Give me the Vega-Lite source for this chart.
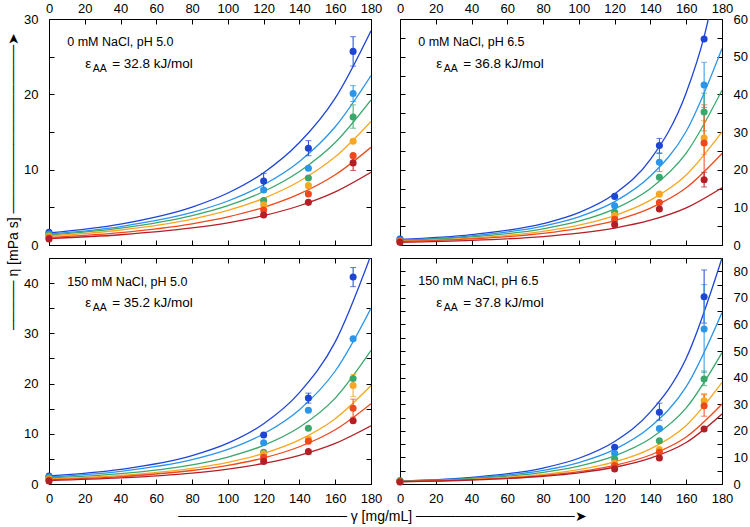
{
"$schema":"https://vega.github.io/schema/vega-lite/v6.json",
"padding":{"left":5,"top":1,"right":0,"bottom":0},
"background":"white",
"config":{"font":"Liberation Sans","view":{"stroke":"#000","strokeWidth":1},
"axis":{"labelFlush":false,"labelOverlap":false,"grid":false,"domain":false,"tickColor":"#000","labelColor":"#000","labelFontSize":13,"labelFont":"Liberation Sans","titleFont":"Liberation Sans","titleFontSize":14,"titleFontWeight":"normal","titleColor":"#000","tickSize":-5},
"axisTop":{"labelPadding":9},"axisBottom":{"labelPadding":13},"axisLeft":{"labelPadding":16},"axisRight":{"labelPadding":16},
"text":{"font":"Liberation Sans","fontSize":13.5,"color":"#000"}},
"datasets":{
"curves":[
{"p":"TL","s":1,"x":0,"y":1.6},{"p":"TL","s":1,"x":40,"y":2.77},{"p":"TL","s":1,"x":80,"y":5.03},{"p":"TL","s":1,"x":100,"y":6.9},{"p":"TL","s":1,"x":120,"y":9.6},{"p":"TL","s":1,"x":140,"y":13.6},{"p":"TL","s":1,"x":160,"y":19.5},{"p":"TL","s":1,"x":180,"y":28.45},
{"p":"TL","s":2,"x":0,"y":1.45},{"p":"TL","s":2,"x":40,"y":2.45},{"p":"TL","s":2,"x":80,"y":4.32},{"p":"TL","s":2,"x":100,"y":5.84},{"p":"TL","s":2,"x":120,"y":8.0},{"p":"TL","s":2,"x":140,"y":11.1},{"p":"TL","s":2,"x":160,"y":15.7},{"p":"TL","s":2,"x":180,"y":22.5},
{"p":"TL","s":3,"x":0,"y":1.35},{"p":"TL","s":3,"x":40,"y":2.25},{"p":"TL","s":3,"x":80,"y":3.91},{"p":"TL","s":3,"x":100,"y":5.23},{"p":"TL","s":3,"x":120,"y":7.1},{"p":"TL","s":3,"x":140,"y":9.76},{"p":"TL","s":3,"x":160,"y":13.6},{"p":"TL","s":3,"x":180,"y":19.25},
{"p":"TL","s":4,"x":0,"y":1.2},{"p":"TL","s":4,"x":40,"y":1.99},{"p":"TL","s":4,"x":80,"y":3.44},{"p":"TL","s":4,"x":100,"y":4.59},{"p":"TL","s":4,"x":120,"y":6.2},{"p":"TL","s":4,"x":140,"y":8.46},{"p":"TL","s":4,"x":160,"y":11.7},{"p":"TL","s":4,"x":180,"y":16.4},
{"p":"TL","s":5,"x":0,"y":1.0},{"p":"TL","s":5,"x":40,"y":1.65},{"p":"TL","s":5,"x":80,"y":2.81},{"p":"TL","s":5,"x":100,"y":3.73},{"p":"TL","s":5,"x":120,"y":5.0},{"p":"TL","s":5,"x":140,"y":6.78},{"p":"TL","s":5,"x":160,"y":9.32},{"p":"TL","s":5,"x":180,"y":12.97},
{"p":"TL","s":6,"x":0,"y":0.85},{"p":"TL","s":6,"x":40,"y":1.36},{"p":"TL","s":6,"x":80,"y":2.26},{"p":"TL","s":6,"x":100,"y":2.95},{"p":"TL","s":6,"x":120,"y":3.9},{"p":"TL","s":6,"x":140,"y":5.21},{"p":"TL","s":6,"x":160,"y":7.05},{"p":"TL","s":6,"x":180,"y":9.65},
{"p":"TR","s":1,"x":0,"y":1.5},{"p":"TR","s":1,"x":40,"y":2.75},{"p":"TR","s":1,"x":80,"y":5.66},{"p":"TR","s":1,"x":100,"y":8.58},{"p":"TR","s":1,"x":120,"y":13.6},{"p":"TR","s":1,"x":140,"y":22.7},{"p":"TR","s":1,"x":160,"y":40.4},{"p":"TR","s":1,"x":170,"y":55.3},{"p":"TR","s":1,"x":180,"y":77.3},
{"p":"TR","s":2,"x":0,"y":1.3},{"p":"TR","s":2,"x":40,"y":2.44},{"p":"TR","s":2,"x":80,"y":5.02},{"p":"TR","s":2,"x":100,"y":7.48},{"p":"TR","s":2,"x":120,"y":11.5},{"p":"TR","s":2,"x":140,"y":18.3},{"p":"TR","s":2,"x":160,"y":30.2},{"p":"TR","s":2,"x":180,"y":52.2},
{"p":"TR","s":3,"x":0,"y":1.15},{"p":"TR","s":3,"x":40,"y":2.13},{"p":"TR","s":3,"x":80,"y":4.3},{"p":"TR","s":3,"x":100,"y":6.33},{"p":"TR","s":3,"x":120,"y":9.6},{"p":"TR","s":3,"x":140,"y":15.0},{"p":"TR","s":3,"x":160,"y":24.4},{"p":"TR","s":3,"x":180,"y":41.1},
{"p":"TR","s":4,"x":0,"y":1.0},{"p":"TR","s":4,"x":40,"y":1.84},{"p":"TR","s":4,"x":80,"y":3.63},{"p":"TR","s":4,"x":100,"y":5.26},{"p":"TR","s":4,"x":120,"y":7.8},{"p":"TR","s":4,"x":140,"y":11.9},{"p":"TR","s":4,"x":160,"y":18.6},{"p":"TR","s":4,"x":180,"y":30.0},
{"p":"TR","s":5,"x":0,"y":0.9},{"p":"TR","s":5,"x":40,"y":1.61},{"p":"TR","s":5,"x":80,"y":3.1},{"p":"TR","s":5,"x":100,"y":4.43},{"p":"TR","s":5,"x":120,"y":6.5},{"p":"TR","s":5,"x":140,"y":9.79},{"p":"TR","s":5,"x":160,"y":15.2},{"p":"TR","s":5,"x":180,"y":24.3},
{"p":"TR","s":6,"x":0,"y":0.7},{"p":"TR","s":6,"x":40,"y":1.22},{"p":"TR","s":6,"x":80,"y":2.25},{"p":"TR","s":6,"x":100,"y":3.15},{"p":"TR","s":6,"x":120,"y":4.5},{"p":"TR","s":6,"x":140,"y":6.58},{"p":"TR","s":6,"x":160,"y":9.86},{"p":"TR","s":6,"x":180,"y":15.2},
{"p":"BL","s":1,"x":0,"y":1.6},{"p":"BL","s":1,"x":40,"y":2.9},{"p":"BL","s":1,"x":80,"y":5.65},{"p":"BL","s":1,"x":100,"y":8.13},{"p":"BL","s":1,"x":120,"y":12.0},{"p":"BL","s":1,"x":140,"y":18.2},{"p":"BL","s":1,"x":160,"y":28.3},{"p":"BL","s":1,"x":180,"y":45.6},
{"p":"BL","s":2,"x":0,"y":1.4},{"p":"BL","s":2,"x":40,"y":2.52},{"p":"BL","s":2,"x":80,"y":4.84},{"p":"BL","s":2,"x":100,"y":6.89},{"p":"BL","s":2,"x":120,"y":10.0},{"p":"BL","s":2,"x":140,"y":14.8},{"p":"BL","s":2,"x":160,"y":22.5},{"p":"BL","s":2,"x":180,"y":35.0},
{"p":"BL","s":3,"x":0,"y":1.2},{"p":"BL","s":3,"x":40,"y":2.07},{"p":"BL","s":3,"x":80,"y":3.83},{"p":"BL","s":3,"x":100,"y":5.37},{"p":"BL","s":3,"x":120,"y":7.7},{"p":"BL","s":3,"x":140,"y":11.3},{"p":"BL","s":3,"x":160,"y":17.1},{"p":"BL","s":3,"x":180,"y":26.6},
{"p":"BL","s":4,"x":0,"y":1.0},{"p":"BL","s":4,"x":40,"y":1.71},{"p":"BL","s":4,"x":80,"y":3.12},{"p":"BL","s":4,"x":100,"y":4.32},{"p":"BL","s":4,"x":120,"y":6.1},{"p":"BL","s":4,"x":140,"y":8.79},{"p":"BL","s":4,"x":160,"y":13.0},{"p":"BL","s":4,"x":180,"y":19.6},
{"p":"BL","s":5,"x":0,"y":0.85},{"p":"BL","s":5,"x":40,"y":1.47},{"p":"BL","s":5,"x":80,"y":2.69},{"p":"BL","s":5,"x":100,"y":3.71},{"p":"BL","s":5,"x":120,"y":5.2},{"p":"BL","s":5,"x":140,"y":7.42},{"p":"BL","s":5,"x":160,"y":10.8},{"p":"BL","s":5,"x":180,"y":16.0},
{"p":"BL","s":6,"x":0,"y":0.7},{"p":"BL","s":6,"x":40,"y":1.21},{"p":"BL","s":6,"x":80,"y":2.18},{"p":"BL","s":6,"x":100,"y":2.97},{"p":"BL","s":6,"x":120,"y":4.1},{"p":"BL","s":6,"x":140,"y":5.72},{"p":"BL","s":6,"x":160,"y":8.09},{"p":"BL","s":6,"x":180,"y":11.6},
{"p":"BR","s":1,"x":0,"y":1.1},{"p":"BR","s":1,"x":40,"y":2.47},{"p":"BR","s":1,"x":80,"y":6.01},{"p":"BR","s":1,"x":100,"y":9.69},{"p":"BR","s":1,"x":120,"y":16.0},{"p":"BR","s":1,"x":140,"y":27.1},{"p":"BR","s":1,"x":160,"y":47.3},{"p":"BR","s":1,"x":180,"y":85.0},
{"p":"BR","s":2,"x":0,"y":1.05},{"p":"BR","s":2,"x":40,"y":2.23},{"p":"BR","s":2,"x":80,"y":5.14},{"p":"BR","s":2,"x":100,"y":8.07},{"p":"BR","s":2,"x":120,"y":13.0},{"p":"BR","s":2,"x":140,"y":21.5},{"p":"BR","s":2,"x":160,"y":36.6},{"p":"BR","s":2,"x":180,"y":64.5},
{"p":"BR","s":3,"x":0,"y":1.0},{"p":"BR","s":3,"x":40,"y":2.02},{"p":"BR","s":3,"x":80,"y":4.41},{"p":"BR","s":3,"x":100,"y":6.75},{"p":"BR","s":3,"x":120,"y":10.6},{"p":"BR","s":3,"x":140,"y":17.1},{"p":"BR","s":3,"x":160,"y":28.6},{"p":"BR","s":3,"x":180,"y":49.4},
{"p":"BR","s":4,"x":0,"y":0.95},{"p":"BR","s":4,"x":40,"y":1.77},{"p":"BR","s":4,"x":80,"y":3.62},{"p":"BR","s":4,"x":100,"y":5.4},{"p":"BR","s":4,"x":120,"y":8.3},{"p":"BR","s":4,"x":140,"y":13.2},{"p":"BR","s":4,"x":160,"y":22.0},{"p":"BR","s":4,"x":180,"y":38.2},
{"p":"BR","s":5,"x":0,"y":0.9},{"p":"BR","s":5,"x":40,"y":1.62},{"p":"BR","s":5,"x":80,"y":3.18},{"p":"BR","s":5,"x":100,"y":4.65},{"p":"BR","s":5,"x":120,"y":7.0},{"p":"BR","s":5,"x":140,"y":10.9},{"p":"BR","s":5,"x":160,"y":17.7},{"p":"BR","s":5,"x":180,"y":30.1},
{"p":"BR","s":6,"x":0,"y":0.85},{"p":"BR","s":6,"x":40,"y":1.51},{"p":"BR","s":6,"x":80,"y":2.92},{"p":"BR","s":6,"x":100,"y":4.22},{"p":"BR","s":6,"x":120,"y":6.3},{"p":"BR","s":6,"x":140,"y":9.73},{"p":"BR","s":6,"x":160,"y":15.6},{"p":"BR","s":6,"x":180,"y":26.3}
],
"pts":[
{"p":"TL","s":1,"x":0,"y":1.68},{"p":"TL","s":1,"x":120,"y":8.5,"lo":7.5,"hi":9.5},{"p":"TL","s":1,"x":145,"y":12.85,"lo":11.85,"hi":13.85},{"p":"TL","s":1,"x":170,"y":25.7,"lo":23.75,"hi":27.65},
{"p":"TL","s":2,"x":0,"y":1.46},{"p":"TL","s":2,"x":120,"y":7.3},{"p":"TL","s":2,"x":145,"y":10.18},{"p":"TL","s":2,"x":170,"y":20.1,"lo":19.05,"hi":21.15},
{"p":"TL","s":3,"x":0,"y":1.33},{"p":"TL","s":3,"x":120,"y":5.9},{"p":"TL","s":3,"x":145,"y":8.89},{"p":"TL","s":3,"x":170,"y":17.0,"lo":15.5,"hi":18.6},
{"p":"TL","s":4,"x":0,"y":1.15},{"p":"TL","s":4,"x":120,"y":5.35},{"p":"TL","s":4,"x":145,"y":7.88},{"p":"TL","s":4,"x":170,"y":13.77},
{"p":"TL","s":5,"x":0,"y":0.97},{"p":"TL","s":5,"x":120,"y":4.65},{"p":"TL","s":5,"x":145,"y":6.77},{"p":"TL","s":5,"x":170,"y":11.86},
{"p":"TL","s":6,"x":0,"y":0.8},{"p":"TL","s":6,"x":120,"y":3.98},{"p":"TL","s":6,"x":145,"y":5.66},{"p":"TL","s":6,"x":170,"y":10.9,"lo":9.9,"hi":11.9},
{"p":"TR","s":1,"x":0,"y":1.6},{"p":"TR","s":1,"x":120,"y":12.9},{"p":"TR","s":1,"x":145,"y":26.4,"lo":24.3,"hi":28.3},{"p":"TR","s":1,"x":170,"y":54.7},
{"p":"TR","s":2,"x":0,"y":1.35},{"p":"TR","s":2,"x":120,"y":10.4},{"p":"TR","s":2,"x":145,"y":21.95,"lo":19.5,"hi":24.5},{"p":"TR","s":2,"x":170,"y":42.5,"lo":36.5,"hi":48.5},
{"p":"TR","s":3,"x":0,"y":1.15},{"p":"TR","s":3,"x":120,"y":8.7},{"p":"TR","s":3,"x":145,"y":17.97},{"p":"TR","s":3,"x":170,"y":35.3,"lo":30.3,"hi":40.3},
{"p":"TR","s":4,"x":0,"y":1.0},{"p":"TR","s":4,"x":120,"y":7.9},{"p":"TR","s":4,"x":145,"y":13.5},{"p":"TR","s":4,"x":170,"y":28.4,"lo":24.0,"hi":33.0},
{"p":"TR","s":5,"x":0,"y":0.9},{"p":"TR","s":5,"x":120,"y":6.8},{"p":"TR","s":5,"x":145,"y":11.3},{"p":"TR","s":5,"x":170,"y":27.1,"lo":17.2,"hi":37.2},
{"p":"TR","s":6,"x":0,"y":0.7},{"p":"TR","s":6,"x":120,"y":5.4},{"p":"TR","s":6,"x":145,"y":9.56},{"p":"TR","s":6,"x":170,"y":17.3,"lo":15.4,"hi":19.3},
{"p":"BL","s":1,"x":0,"y":1.6},{"p":"BL","s":1,"x":120,"y":9.76},{"p":"BL","s":1,"x":145,"y":17.1,"lo":16.1,"hi":18.1},{"p":"BL","s":1,"x":170,"y":41.2,"lo":39.3,"hi":43.1},
{"p":"BL","s":2,"x":0,"y":1.4},{"p":"BL","s":2,"x":120,"y":8.23},{"p":"BL","s":2,"x":145,"y":14.7},{"p":"BL","s":2,"x":170,"y":28.9},
{"p":"BL","s":3,"x":0,"y":1.2},{"p":"BL","s":3,"x":120,"y":6.3},{"p":"BL","s":3,"x":145,"y":11.1},{"p":"BL","s":3,"x":170,"y":21.0},
{"p":"BL","s":4,"x":0,"y":1.0},{"p":"BL","s":4,"x":120,"y":6.0},{"p":"BL","s":4,"x":145,"y":8.96},{"p":"BL","s":4,"x":170,"y":19.6,"lo":17.4,"hi":21.8},
{"p":"BL","s":5,"x":0,"y":0.8},{"p":"BL","s":5,"x":120,"y":5.3},{"p":"BL","s":5,"x":145,"y":8.5},{"p":"BL","s":5,"x":170,"y":15.07,"lo":13.3,"hi":16.9},
{"p":"BL","s":6,"x":0,"y":0.6},{"p":"BL","s":6,"x":120,"y":4.5},{"p":"BL","s":6,"x":145,"y":6.44},{"p":"BL","s":6,"x":170,"y":12.6},
{"p":"BR","s":1,"x":0,"y":1.2},{"p":"BR","s":1,"x":120,"y":13.8},{"p":"BR","s":1,"x":145,"y":27.0,"lo":24.0,"hi":30.4},{"p":"BR","s":1,"x":170,"y":70.4,"lo":60.5,"hi":80.5},
{"p":"BR","s":2,"x":0,"y":1.1},{"p":"BR","s":2,"x":120,"y":11.5},{"p":"BR","s":2,"x":145,"y":20.9},{"p":"BR","s":2,"x":170,"y":58.3,"lo":42.0,"hi":75.0},
{"p":"BR","s":3,"x":0,"y":1.0},{"p":"BR","s":3,"x":120,"y":9.4},{"p":"BR","s":3,"x":145,"y":16.3},{"p":"BR","s":3,"x":170,"y":39.5,"lo":37.0,"hi":42.5},
{"p":"BR","s":4,"x":0,"y":0.9},{"p":"BR","s":4,"x":120,"y":7.8},{"p":"BR","s":4,"x":145,"y":13.0},{"p":"BR","s":4,"x":170,"y":31.3,"lo":28.5,"hi":34.0},
{"p":"BR","s":5,"x":0,"y":0.85},{"p":"BR","s":5,"x":120,"y":6.9},{"p":"BR","s":5,"x":145,"y":11.9},{"p":"BR","s":5,"x":170,"y":29.4,"lo":25.5,"hi":33.6},
{"p":"BR","s":6,"x":0,"y":0.75},{"p":"BR","s":6,"x":120,"y":5.64},{"p":"BR","s":6,"x":145,"y":9.78},{"p":"BR","s":6,"x":170,"y":20.7}
]},
"columns":2,
"spacing":{"row":13,"column":29},
"bounds":"flush",
"resolve":{"scale":{"x":"independent","y":"independent"}},
"concat":[
{"width":322,"height":226,
"layer":[
{"data":{"name":"curves"},"transform":[{"filter":"datum.p=='TL'"}],
"mark":{"type":"line","clip":true,"strokeWidth":1.3,"interpolate":"monotone"},
"encoding":{"x":{"field":"x","type":"quantitative","scale":{"domain":[0,180],"nice":false},"axis":{"orient":"top","values":[0,20,40,60,80,100,120,140,160,180],"title":null}},
"y":{"field":"y","type":"quantitative","scale":{"domain":[0,30],"nice":false},"axis":{"orient":"left","values":[0,5,10,15,20,25,30],"labelExpr":"datum.value % 10 === 0 ? datum.label : ''","title":"───── η [mPa s] ─────────────────➤","titleX":-36,"titleY":162,"titleAngle":-90,"titleAlign":"center","titleBaseline":"middle"}},
"color":{"field":"s","type":"nominal","scale":{"domain":[1,2,3,4,5,6],"range":["#1f45d6","#2b95ea","#3aa86c","#f7a820","#f0481c","#b41f26"]},"legend":null}}},
{"data":{"name":"pts"},"transform":[{"filter":"datum.p=='TL' && isValid(datum.lo)"}],
"mark":{"type":"errorbar","ticks":true,"size":6,"thickness":1},
"encoding":{"x":{"field":"x","type":"quantitative","axis":null},"y":{"field":"lo","type":"quantitative","axis":null},"y2":{"field":"hi"},"color":{"field":"s","type":"nominal","legend":null}}},
{"data":{"name":"pts"},"transform":[{"filter":"datum.p=='TL'"}],
"mark":{"type":"circle","size":50,"opacity":1},
"encoding":{"x":{"field":"x","type":"quantitative","axis":{"orient":"bottom","values":[0,20,40,60,80,100,120,140,160,180],"labels":false,"title":null}},
"y":{"field":"y","type":"quantitative","axis":{"orient":"right","values":[0,5,10,15,20,25,30],"labels":false,"title":null}},
"color":{"field":"s","type":"nominal","legend":null}}},
{"data":{"values":[{}]},"mark":{"type":"text","align":"left","baseline":"middle","fontSize":12.5},"encoding":{"x":{"datum":10.2,"type":"quantitative","axis":null},"y":{"datum":26.9,"type":"quantitative","axis":null},"text":{"value":"0 mM NaCl, pH 5.0"}}},
{"data":{"values":[{}]},"mark":{"type":"text","align":"left","baseline":"middle"},"encoding":{"x":{"datum":20.2,"type":"quantitative","axis":null},"y":{"datum":24.0,"type":"quantitative","axis":null},"text":{"value":"ε"}}},
{"data":{"values":[{}]},"mark":{"type":"text","align":"left","baseline":"middle","fontSize":10.5,"dx":7.6,"dy":4.5},"encoding":{"x":{"datum":20.2,"type":"quantitative","axis":null},"y":{"datum":24.0,"type":"quantitative","axis":null},"text":{"value":"AA"}}},
{"data":{"values":[{}]},"mark":{"type":"text","align":"left","baseline":"middle","dx":27},"encoding":{"x":{"datum":20.2,"type":"quantitative","axis":null},"y":{"datum":24.0,"type":"quantitative","axis":null},"text":{"value":"= 32.8 kJ/mol"}}}
],
"resolve":{"axis":{"x":"independent","y":"independent"}}},
{"width":322,"height":226,
"layer":[
{"data":{"name":"curves"},"transform":[{"filter":"datum.p=='TR'"}],
"mark":{"type":"line","clip":true,"strokeWidth":1.3,"interpolate":"monotone"},
"encoding":{"x":{"field":"x","type":"quantitative","scale":{"domain":[0,180],"nice":false},"axis":{"orient":"top","values":[0,20,40,60,80,100,120,140,160,180],"title":null}},
"y":{"field":"y","type":"quantitative","scale":{"domain":[0,60],"nice":false},"axis":{"orient":"right","values":[0,5,10,15,20,25,30,35,40,45,50,55,60],"labelExpr":"datum.value % 10 === 0 ? datum.label : ''","title":null}},
"color":{"field":"s","type":"nominal","scale":{"domain":[1,2,3,4,5,6],"range":["#1f45d6","#2b95ea","#3aa86c","#f7a820","#f0481c","#b41f26"]},"legend":null}}},
{"data":{"name":"pts"},"transform":[{"filter":"datum.p=='TR' && isValid(datum.lo)"}],
"mark":{"type":"errorbar","ticks":true,"size":6,"thickness":1},
"encoding":{"x":{"field":"x","type":"quantitative","axis":null},"y":{"field":"lo","type":"quantitative","axis":null},"y2":{"field":"hi"},"color":{"field":"s","type":"nominal","legend":null}}},
{"data":{"name":"pts"},"transform":[{"filter":"datum.p=='TR'"}],
"mark":{"type":"circle","size":50,"opacity":1},
"encoding":{"x":{"field":"x","type":"quantitative","axis":{"orient":"bottom","values":[0,20,40,60,80,100,120,140,160,180],"labels":false,"title":null}},
"y":{"field":"y","type":"quantitative","axis":{"orient":"left","values":[0,5,10,15,20,25,30,35,40,45,50,55,60],"labels":false,"title":null}},
"color":{"field":"s","type":"nominal","legend":null}}},
{"data":{"values":[{}]},"mark":{"type":"text","align":"left","baseline":"middle","fontSize":12.5},"encoding":{"x":{"datum":10.2,"type":"quantitative","axis":null},"y":{"datum":53.8,"type":"quantitative","axis":null},"text":{"value":"0 mM NaCl, pH 6.5"}}},
{"data":{"values":[{}]},"mark":{"type":"text","align":"left","baseline":"middle"},"encoding":{"x":{"datum":20.2,"type":"quantitative","axis":null},"y":{"datum":48.0,"type":"quantitative","axis":null},"text":{"value":"ε"}}},
{"data":{"values":[{}]},"mark":{"type":"text","align":"left","baseline":"middle","fontSize":10.5,"dx":7.6,"dy":4.5},"encoding":{"x":{"datum":20.2,"type":"quantitative","axis":null},"y":{"datum":48.0,"type":"quantitative","axis":null},"text":{"value":"AA"}}},
{"data":{"values":[{}]},"mark":{"type":"text","align":"left","baseline":"middle","dx":27},"encoding":{"x":{"datum":20.2,"type":"quantitative","axis":null},"y":{"datum":48.0,"type":"quantitative","axis":null},"text":{"value":"= 36.8 kJ/mol"}}}
],
"resolve":{"axis":{"x":"independent","y":"independent"}}},
{"width":322,"height":226,
"layer":[
{"data":{"name":"curves"},"transform":[{"filter":"datum.p=='BL'"}],
"mark":{"type":"line","clip":true,"strokeWidth":1.3,"interpolate":"monotone"},
"encoding":{"x":{"field":"x","type":"quantitative","scale":{"domain":[0,180],"nice":false},"axis":{"orient":"bottom","values":[0,20,40,60,80,100,120,140,160,180],"title":"───────────────── γ [mg/mL] ────────────────➤","titleX":333,"titleY":32,"titleAlign":"center","titleBaseline":"middle"}},
"y":{"field":"y","type":"quantitative","scale":{"domain":[0,45],"nice":false},"axis":{"orient":"left","values":[0,5,10,15,20,25,30,35,40,45],"labelExpr":"datum.value % 10 === 0 ? datum.label : ''","title":null}},
"color":{"field":"s","type":"nominal","scale":{"domain":[1,2,3,4,5,6],"range":["#1f45d6","#2b95ea","#3aa86c","#f7a820","#f0481c","#b41f26"]},"legend":null}}},
{"data":{"name":"pts"},"transform":[{"filter":"datum.p=='BL' && isValid(datum.lo)"}],
"mark":{"type":"errorbar","ticks":true,"size":6,"thickness":1},
"encoding":{"x":{"field":"x","type":"quantitative","axis":null},"y":{"field":"lo","type":"quantitative","axis":null},"y2":{"field":"hi"},"color":{"field":"s","type":"nominal","legend":null}}},
{"data":{"name":"pts"},"transform":[{"filter":"datum.p=='BL'"}],
"mark":{"type":"circle","size":50,"opacity":1},
"encoding":{"x":{"field":"x","type":"quantitative","axis":{"orient":"top","values":[0,20,40,60,80,100,120,140,160,180],"labels":false,"title":null}},
"y":{"field":"y","type":"quantitative","axis":{"orient":"right","values":[0,5,10,15,20,25,30,35,40,45],"labels":false,"title":null}},
"color":{"field":"s","type":"nominal","legend":null}}},
{"data":{"values":[{}]},"mark":{"type":"text","align":"left","baseline":"middle","fontSize":12.5},"encoding":{"x":{"datum":10.2,"type":"quantitative","axis":null},"y":{"datum":40.3,"type":"quantitative","axis":null},"text":{"value":"150 mM NaCl, pH 5.0"}}},
{"data":{"values":[{}]},"mark":{"type":"text","align":"left","baseline":"middle"},"encoding":{"x":{"datum":20.2,"type":"quantitative","axis":null},"y":{"datum":36.0,"type":"quantitative","axis":null},"text":{"value":"ε"}}},
{"data":{"values":[{}]},"mark":{"type":"text","align":"left","baseline":"middle","fontSize":10.5,"dx":7.6,"dy":4.5},"encoding":{"x":{"datum":20.2,"type":"quantitative","axis":null},"y":{"datum":36.0,"type":"quantitative","axis":null},"text":{"value":"AA"}}},
{"data":{"values":[{}]},"mark":{"type":"text","align":"left","baseline":"middle","dx":27},"encoding":{"x":{"datum":20.2,"type":"quantitative","axis":null},"y":{"datum":36.0,"type":"quantitative","axis":null},"text":{"value":"= 35.2 kJ/mol"}}}
],
"resolve":{"axis":{"x":"independent","y":"independent"}}},
{"width":322,"height":226,
"layer":[
{"data":{"name":"curves"},"transform":[{"filter":"datum.p=='BR'"}],
"mark":{"type":"line","clip":true,"strokeWidth":1.3,"interpolate":"monotone"},
"encoding":{"x":{"field":"x","type":"quantitative","scale":{"domain":[0,180],"nice":false},"axis":{"orient":"bottom","values":[0,20,40,60,80,100,120,140,160,180],"title":null}},
"y":{"field":"y","type":"quantitative","scale":{"domain":[0,85],"nice":false},"axis":{"orient":"right","values":[0,5,10,15,20,25,30,35,40,45,50,55,60,65,70,75,80,85],"labelExpr":"datum.value % 10 === 0 ? datum.label : ''","title":null}},
"color":{"field":"s","type":"nominal","scale":{"domain":[1,2,3,4,5,6],"range":["#1f45d6","#2b95ea","#3aa86c","#f7a820","#f0481c","#b41f26"]},"legend":null}}},
{"data":{"name":"pts"},"transform":[{"filter":"datum.p=='BR' && isValid(datum.lo)"}],
"mark":{"type":"errorbar","ticks":true,"size":6,"thickness":1},
"encoding":{"x":{"field":"x","type":"quantitative","axis":null},"y":{"field":"lo","type":"quantitative","axis":null},"y2":{"field":"hi"},"color":{"field":"s","type":"nominal","legend":null}}},
{"data":{"name":"pts"},"transform":[{"filter":"datum.p=='BR'"}],
"mark":{"type":"circle","size":50,"opacity":1},
"encoding":{"x":{"field":"x","type":"quantitative","axis":{"orient":"top","values":[0,20,40,60,80,100,120,140,160,180],"labels":false,"title":null}},
"y":{"field":"y","type":"quantitative","axis":{"orient":"left","values":[0,5,10,15,20,25,30,35,40,45,50,55,60,65,70,75,80,85],"labels":false,"title":null}},
"color":{"field":"s","type":"nominal","legend":null}}},
{"data":{"values":[{}]},"mark":{"type":"text","align":"left","baseline":"middle","fontSize":12.5},"encoding":{"x":{"datum":10.2,"type":"quantitative","axis":null},"y":{"datum":76.2,"type":"quantitative","axis":null},"text":{"value":"150 mM NaCl, pH 6.5"}}},
{"data":{"values":[{}]},"mark":{"type":"text","align":"left","baseline":"middle"},"encoding":{"x":{"datum":20.2,"type":"quantitative","axis":null},"y":{"datum":68.0,"type":"quantitative","axis":null},"text":{"value":"ε"}}},
{"data":{"values":[{}]},"mark":{"type":"text","align":"left","baseline":"middle","fontSize":10.5,"dx":7.6,"dy":4.5},"encoding":{"x":{"datum":20.2,"type":"quantitative","axis":null},"y":{"datum":68.0,"type":"quantitative","axis":null},"text":{"value":"AA"}}},
{"data":{"values":[{}]},"mark":{"type":"text","align":"left","baseline":"middle","dx":27},"encoding":{"x":{"datum":20.2,"type":"quantitative","axis":null},"y":{"datum":68.0,"type":"quantitative","axis":null},"text":{"value":"= 37.8 kJ/mol"}}}
],
"resolve":{"axis":{"x":"independent","y":"independent"}}}
]
}
